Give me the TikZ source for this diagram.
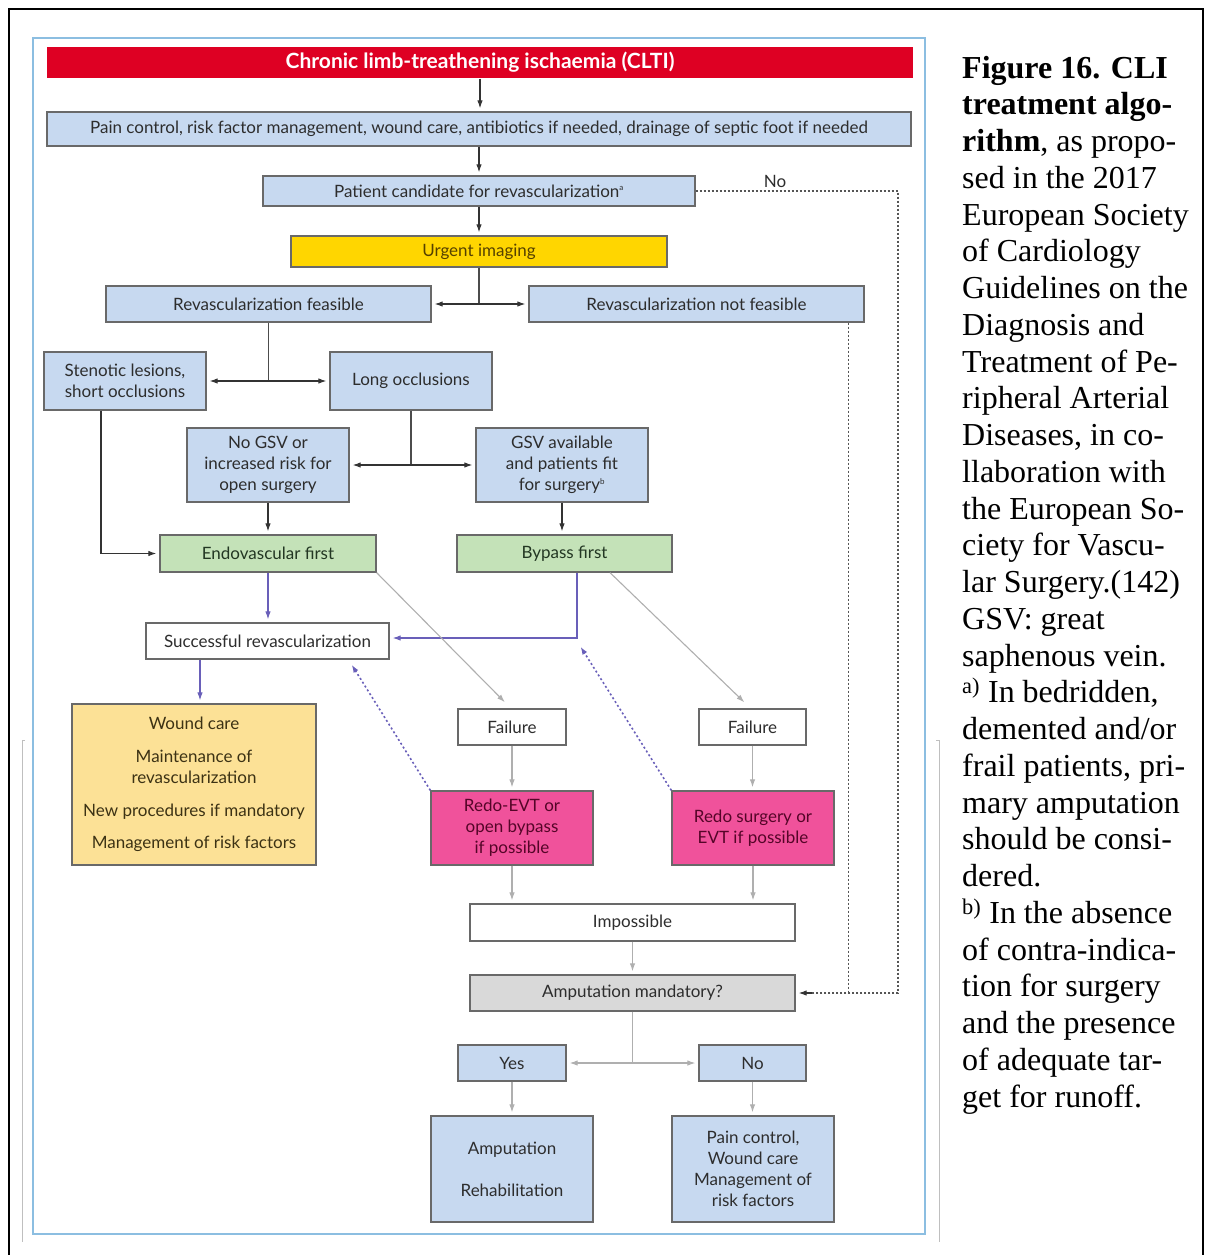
\documentclass[tikz,border=0pt]{standalone}
\usepackage{fontspec}
\setmainfont{Liberation Serif}
\newfontfamily\boxfont{Lato}
\usetikzlibrary{arrows.meta,calc}
\definecolor{cltired}{RGB}{222,0,35}
\definecolor{lblue}{RGB}{199,217,240}
\definecolor{urgyel}{RGB}{255,214,0}
\definecolor{lgreen}{RGB}{196,226,184}
\definecolor{wyel}{RGB}{252,225,150}
\definecolor{hpink}{RGB}{240,82,155}
\definecolor{amgray}{RGB}{217,217,217}
\definecolor{frameblue}{RGB}{140,190,225}
\definecolor{purp}{RGB}{105,95,185}
\definecolor{garrow}{RGB}{175,175,175}
\definecolor{boxline}{RGB}{105,105,105}
\definecolor{txt}{RGB}{45,45,45}
\definecolor{dotgray}{RGB}{85,85,85}
\tikzset{
  box/.style={draw=boxline, line width=1.3pt, inner sep=0pt, align=center,
    font=\boxfont\fontsize{17}{21}\selectfont, text=txt},
  bluebox/.style={box, fill=lblue},
  redbox/.style={box, draw=none, fill=cltired, text=white,
    font=\boxfont\bfseries\fontsize{21}{24}\selectfont},
  urgbox/.style={box, fill=urgyel, text={rgb,255:red,85;green,65;blue,0}},
  greenbox/.style={box, fill=lgreen, text={rgb,255:red,35;green,55;blue,35}},
  whitebox/.style={box, fill=white},
  woundbox/.style={box, fill=wyel, text={rgb,255:red,60;green,50;blue,20}},
  pinkbox/.style={box, fill=hpink, text={rgb,255:red,85;green,5;blue,40}},
  graybox/.style={box, fill=amgray},
  arr/.style={-{Latex[length=8pt,width=5.5pt]}, line width=1.1pt, draw=black!80, shorten >=3pt},
  plainline/.style={line width=1.1pt, draw=black!70},
  garr/.style={-{Latex[length=8pt,width=5.5pt]}, line width=1.1pt, draw=garrow, shorten >=3pt},
  gline/.style={line width=1.1pt, draw=garrow},
  parr/.style={-{Latex[length=8pt,width=5.5pt]}, line width=1.1pt, draw=purp, shorten >=3pt},
  dotp/.style={-{Latex[length=8pt,width=5.5pt]}, line width=1.6pt, draw=purp,
    dash pattern=on 2pt off 2.5pt},
  dotk/.style={line width=1.6pt, draw=dotgray, dash pattern=on 2pt off 2pt},
  captxt/.style={anchor=base west, inner sep=0pt, font=\fontsize{32}{36}\selectfont},
}
\begin{document}
\begin{tikzpicture}[x=1pt,y=-1pt]
\useasboundingbox (0,0) rectangle (1205,1255);
% outer black frame
\draw[line width=2.5pt] (9,1260) -- (9,9) -- (1203,9) -- (1203,1260);
% faint artefact lines
\draw[black!25, line width=0.8pt] (25,740) -- (22,740) -- (22,1242);
\draw[black!25, line width=0.8pt] (936,740) -- (939,740) -- (939,1242);
% blue frame
\draw[frameblue, line width=2.5pt] (33,38) rectangle (925,1234);

% nodes
\node[redbox, minimum width=866pt, minimum height=31pt] (clti) at (480,62.5) {Chronic limb-treathening ischaemia (CLTI)};
\node[bluebox, minimum width=864pt, minimum height=34pt] (pain) at (479,129) {Pain control, risk factor management, wound care, antibiotics if needed, drainage of septic foot if needed};
\node[bluebox, minimum width=432pt, minimum height=30pt] (patient) at (479,191) {Patient candidate for revascularization\textsuperscript{\fontsize{8}{8}\selectfont a}};
\node[urgbox, minimum width=376pt, minimum height=31pt] (urg) at (479,251.5) {Urgent imaging};
\node[bluebox, minimum width=325pt, minimum height=36pt] (feas) at (268.5,304) {Revascularization feasible};
\node[bluebox, minimum width=335pt, minimum height=36pt] (nfeas) at (696.5,304) {Revascularization not feasible};
\node[bluebox, minimum width=162pt, minimum height=58pt] (sten) at (125,381) {Stenotic lesions,\\short occlusions};
\node[bluebox, minimum width=162pt, minimum height=58pt] (long) at (411,381) {Long occlusions};
\node[bluebox, minimum width=162pt, minimum height=74pt] (nogsv) at (268,465) {No GSV or\\increased risk for\\open surgery};
\node[bluebox, minimum width=172pt, minimum height=74pt] (gsv) at (562,465) {GSV available\\and patients fit\\for surgery\textsuperscript{\fontsize{8}{8}\selectfont b}};
\node[greenbox, minimum width=216pt, minimum height=37pt] (endo) at (268,553.5) {Endovascular first};
\node[greenbox, minimum width=215pt, minimum height=37pt] (bypass) at (564.5,553.5) {Bypass first};
\node[whitebox, minimum width=243pt, minimum height=36pt] (succ) at (267.5,641) {Successful revascularization};
\node[woundbox, minimum width=244pt, minimum height=161pt] (wound) at (194,784.5) {Wound care\\[12pt]Maintenance of\\revascularization\\[12pt]New procedures if mandatory\\[11pt]Management of risk factors};
\node[whitebox, minimum width=108pt, minimum height=36pt] (fail1) at (512,727) {Failure};
\node[whitebox, minimum width=107pt, minimum height=36pt] (fail2) at (752.5,727) {Failure};
\node[pinkbox, minimum width=162pt, minimum height=74pt] (redo1) at (512,828) {Redo-EVT or\\open bypass\\if possible};
\node[pinkbox, minimum width=162pt, minimum height=74pt] (redo2) at (753,828) {Redo surgery or\\EVT if possible};
\node[whitebox, minimum width=325pt, minimum height=37pt] (imposs) at (632.5,922.5) {Impossible};
\node[graybox, minimum width=325pt, minimum height=36pt] (ampm) at (632.5,993) {Amputation mandatory?};
\node[bluebox, minimum width=108pt, minimum height=36pt] (yes) at (512,1063) {Yes};
\node[bluebox, minimum width=107pt, minimum height=36pt] (no) at (752.5,1063) {No};
\node[bluebox, minimum width=162pt, minimum height=106pt] (amp) at (512,1169) {Amputation\\[21pt]Rehabilitation};
\node[bluebox, minimum width=162pt, minimum height=106pt] (pc) at (753,1169) {Pain control,\\Wound care\\Management of\\risk factors};
\node[inner sep=0pt, font=\boxfont\fontsize{17}{21}\selectfont, text=txt] (nolab) at (775,181) {No};

% connectors (black)
\draw[arr] (clti.south) -- (clti.south |- pain.north);
\draw[arr] (pain.south) -- (pain.south |- patient.north);
\draw[arr] (patient.south) -- (patient.south |- urg.north);
\coordinate (j1) at (urg.south |- feas.east);
\draw[plainline] (urg.south) -- (j1);
\draw[arr] (j1) -- (feas.east);
\draw[arr] (j1) -- (nfeas.west);
\coordinate (j2) at (feas.south |- sten.east);
\draw[plainline] (feas.south) -- (j2);
\draw[arr] (j2) -- (sten.east);
\draw[arr] (j2) -- (long.west);
\coordinate (j3) at (long.south |- nogsv.east);
\draw[plainline] (long.south) -- (j3);
\draw[arr] (j3) -- (nogsv.east);
\draw[arr] (j3) -- (gsv.west);
\coordinate (sb) at ($(sten.south)+(-24,0)$);
\draw[arr] (sb) |- (endo.west);
\draw[arr] (nogsv.south) -- (nogsv.south |- endo.north);
\draw[arr] (gsv.south) -- (gsv.south |- bypass.north);

% purple connectors
\draw[parr] (endo.south) -- (endo.south |- succ.north);
\coordinate (bp) at ($(bypass.south)+(12.5,0)$);
\coordinate (se) at ($(succ.east)+(0,-3)$);
\draw[parr] (bp) |- (se);
\coordinate (sw) at ($(succ.south)+(-67.5,0)$);
\draw[parr] (sw) -- (sw |- wound.north);
\coordinate (st1) at ($(succ.south east)+(-38,5)$);
\draw[dotp] (redo1.north west) -- (st1);
\coordinate (st2) at ($(bypass.south)+(16,74)$);
\draw[dotp] (redo2.north west) -- (st2);

% gray connectors
\coordinate (f1) at ($(fail1.north)+(-5,-4)$);
\draw[garr] (endo.south east) -- (f1);
\coordinate (bq) at ($(bypass.south)+(45.5,0)$);
\coordinate (f2) at ($(fail2.north)+(-6,-4)$);
\draw[garr] (bq) -- (f2);
\draw[garr] (fail1.south) -- (fail1.south |- redo1.north);
\draw[garr] (fail2.south) -- (fail2.south |- redo2.north);
\draw[garr] (redo1.south) -- (redo1.south |- imposs.north);
\draw[garr] (redo2.south) -- (redo2.south |- imposs.north);
\draw[garr] (imposs.south) -- (imposs.south |- ampm.north);
\coordinate (j4) at (ampm.south |- yes.east);
\draw[gline] (ampm.south) -- (j4);
\draw[garr] (j4) -- (yes.east);
\draw[garr] (j4) -- (no.west);
\draw[garr] (yes.south) -- (yes.south |- amp.north);
\draw[garr] (no.south) -- (no.south |- pc.north);

% dotted "No" paths
\coordinate (nc1) at (898,191);
\coordinate (nc2) at (898,993);
\coordinate (ae) at ($(ampm.east)+(14,0)$);
\coordinate (ae2) at ($(ampm.east)+(16,0)$);
\draw[dotk] (patient.east) -- (nc1) -- (nc2) -- (ae);
\draw[arr, shorten >=3pt] (ae2) -- (ampm.east);
\coordinate (nd) at ($(nfeas.south east)+(-16,0)$);
\draw[dotk] (nd) -- (nd |- ampm.east);

% caption
\node[captxt] (cap1) at (962,78) {\textbf{Figure 16. CLI}};
\node[captxt] (cap2) at (962,114.75) {\textbf{treatment algo-}};
\node[captxt] (cap3) at (962,151.5) {\textbf{rithm}, as propo-};
\node[captxt] (cap4) at (962,188.25) {sed in the 2017};
\node[captxt] (cap5) at (962,225) {European Society};
\node[captxt] (cap6) at (962,261.75) {of Cardiology};
\node[captxt] (cap7) at (962,298.5) {Guidelines on the};
\node[captxt] (cap8) at (962,335.25) {Diagnosis and};
\node[captxt] (cap9) at (962,372) {Treatment of Pe-};
\node[captxt] (cap10) at (962,408.75) {ripheral Arterial};
\node[captxt] (cap11) at (962,445.5) {Diseases, in co-};
\node[captxt] (cap12) at (962,482.25) {llaboration with};
\node[captxt] (cap13) at (962,519) {the European So-};
\node[captxt] (cap14) at (962,555.75) {ciety for Vascu-};
\node[captxt] (cap15) at (962,592.5) {lar Surgery.(142)};
\node[captxt] (cap16) at (962,629.25) {GSV: great};
\node[captxt] (cap17) at (962,666) {saphenous vein.};
\node[captxt] (cap18) at (962,702.75) {\textsuperscript{a)} In bedridden,};
\node[captxt] (cap19) at (962,739.5) {demented and/or};
\node[captxt] (cap20) at (962,776.25) {frail patients, pri-};
\node[captxt] (cap21) at (962,813) {mary amputation};
\node[captxt] (cap22) at (962,849.75) {should be consi-};
\node[captxt] (cap23) at (962,886.5) {dered.};
\node[captxt] (cap24) at (962,923.25) {\textsuperscript{b)} In the absence};
\node[captxt] (cap25) at (962,960) {of contra-indica-};
\node[captxt] (cap26) at (962,996.75) {tion for surgery};
\node[captxt] (cap27) at (962,1033.5) {and the presence};
\node[captxt] (cap28) at (962,1070.25) {of adequate tar-};
\node[captxt] (cap29) at (962,1107) {get for runoff.};
\end{tikzpicture}
\end{document}
